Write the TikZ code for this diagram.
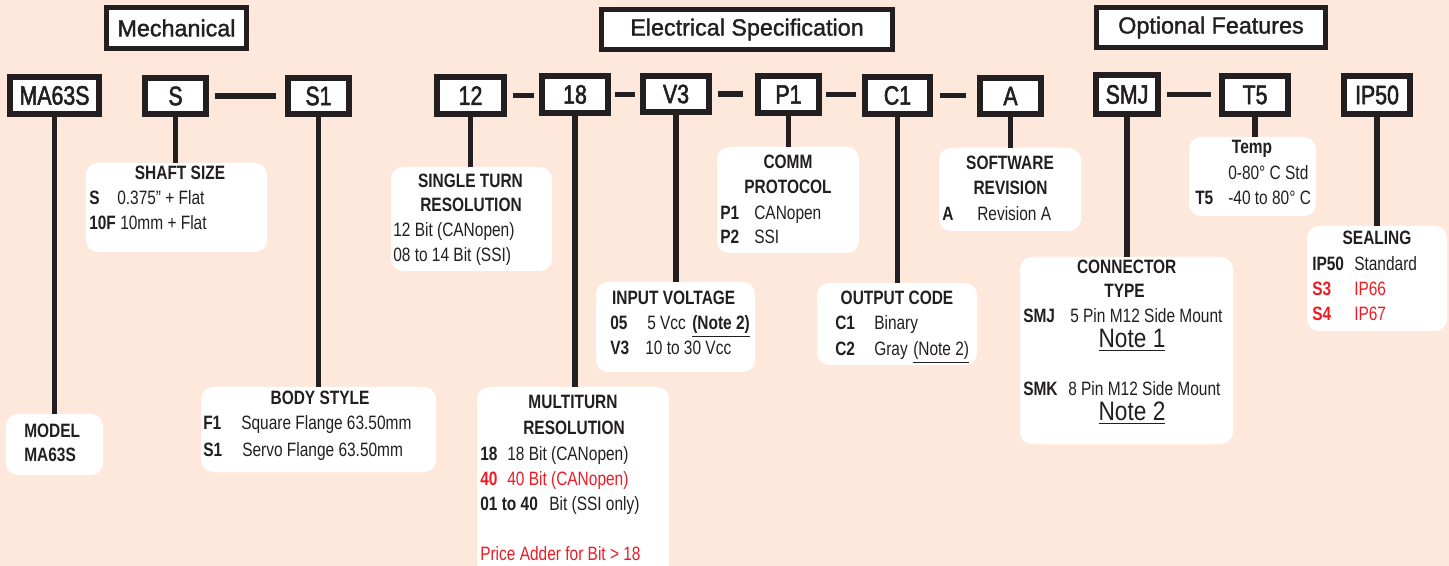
\documentclass[tikz,border=0pt]{standalone}
\usepackage{fontspec}
\setmainfont[FakeStretch=0.8]{Liberation Sans}
\newfontfamily\hdrfont[FakeBold=1.5]{Liberation Sans}
\newfontfamily\codefont[FakeStretch=0.8,FakeBold=2]{Liberation Sans}
\newfontfamily\notefont[FakeStretch=0.85]{Liberation Sans}
\definecolor{bg}{HTML}{FEE8DB}
\definecolor{ink}{HTML}{231F20}
\definecolor{redt}{HTML}{ED1C24}
\newlength\pxu \setlength\pxu{0.75pt}
\tikzset{
 codebox/.style={draw=ink, line width=6\pxu, fill=white, inner sep=0pt, text=ink, font=\codefont\fontsize{20}{24}\selectfont},
 hdrbox/.style={draw=ink, line width=5\pxu, fill=white, inner sep=0pt, text=ink, font=\hdrfont\fontsize{17.5}{21}\selectfont},
 infobox/.style={fill=white, rounded corners=12\pxu, inner sep=0pt},
 stem/.style={draw=ink, line width=5.5\pxu},
 dashline/.style={draw=ink, line width=5.5\pxu},
 tx/.style={inner sep=0pt, text=ink, font=\fontsize{14.5}{17}\selectfont, anchor=base west},
 tc/.style={inner sep=0pt, text=ink, font=\fontsize{14.5}{17}\selectfont\bfseries, anchor=base west},
 th/.style={inner sep=0pt, text=ink, font=\fontsize{14.5}{17}\selectfont\bfseries, anchor=base},
 notetx/.style={inner sep=0pt, text=ink, font=\notefont\fontsize{20}{24}\selectfont, anchor=base},
 rd/.style={text=redt},
}
\begin{document}
\begin{tikzpicture}[x=0.75pt,y=-0.75pt]
\path[use as bounding box, fill=bg] (0,0) rectangle (1449,566);
\clip (0,0) rectangle (1449,566);

% header boxes
\node[hdrbox, minimum width=140\pxu, minimum height=41\pxu] (hmech) at (176.5,28) {Mechanical};
\node[hdrbox, minimum width=291\pxu, minimum height=40\pxu] (helec) at (747,29.5) {Electrical Specification};
\node[hdrbox, minimum width=229\pxu, minimum height=40\pxu] (hopt) at (1211,27.5) {Optional Features};

% code boxes
\node[codebox, minimum width=89\pxu, minimum height=37\pxu] (cMA) at (54.5,95.5) {MA63S};
\node[codebox, minimum width=61\pxu, minimum height=36\pxu] (cS) at (175.5,96) {S};
\node[codebox, minimum width=61\pxu, minimum height=36\pxu] (cS1) at (318.5,96) {S1};
\node[codebox, minimum width=67\pxu, minimum height=37\pxu] (c12) at (470.5,95.5) {12};
\node[codebox, minimum width=66\pxu, minimum height=37\pxu] (c18) at (575,94.5) {18};
\node[codebox, minimum width=66\pxu, minimum height=36\pxu] (cV3) at (676,94) {V3};
\node[codebox, minimum width=61\pxu, minimum height=37\pxu] (cP1) at (788.5,94.5) {P1};
\node[codebox, minimum width=65\pxu, minimum height=37\pxu] (cC1) at (897.5,95.5) {C1};
\node[codebox, minimum width=61\pxu, minimum height=36\pxu] (cA) at (1010.5,96) {A};
\node[codebox, minimum width=62\pxu, minimum height=39\pxu] (cSMJ) at (1127,94.5) {SMJ};
\node[codebox, minimum width=66\pxu, minimum height=38\pxu] (cT5) at (1255,95) {T5};
\node[codebox, minimum width=66\pxu, minimum height=38\pxu] (cIP) at (1377,95) {IP50};

% dashes between code boxes
\draw[dashline, shorten <=6\pxu, shorten >=9\pxu] (cS.east) -- (cS.east -| cS1.west);
\draw[dashline, shorten <=6\pxu, shorten >=5\pxu] (c12.east) -- (c12.east -| c18.west);
\draw[dashline, shorten <=4\pxu, shorten >=5\pxu] (c18.east) -- (c18.east -| cV3.west);
\draw[dashline, shorten <=6\pxu, shorten >=12\pxu] (cV3.east) -- (cV3.east -| cP1.west);
\draw[dashline, shorten <=4\pxu, shorten >=6\pxu] (cP1.east) -- (cP1.east -| cC1.west);
\draw[dashline, shorten <=7\pxu, shorten >=11\pxu] (cC1.east) -- (cC1.east -| cA.west);
\draw[dashline, shorten <=6\pxu, shorten >=8\pxu] (cSMJ.east) -- (cSMJ.east -| cT5.west);

% info boxes
\node[infobox, minimum width=97\pxu, minimum height=61\pxu] (bmodel) at (54.5,444.5) {};
\node[infobox, minimum width=181\pxu, minimum height=89\pxu] (bshaft) at (176.5,207.5) {};
\node[infobox, minimum width=235\pxu, minimum height=85\pxu] (bbody) at (318.5,429.5) {};
\node[infobox, minimum width=161\pxu, minimum height=104\pxu] (bsingle) at (471.5,219) {};
\node[infobox, minimum width=192\pxu, minimum height=213\pxu] (bmulti) at (573,493.5) {};
\node[infobox, minimum width=159\pxu, minimum height=90\pxu] (binput) at (675.5,327) {};
\node[infobox, minimum width=142\pxu, minimum height=106\pxu] (bcomm) at (788,200) {};
\node[infobox, minimum width=160\pxu, minimum height=82\pxu] (boutput) at (897,324) {};
\node[infobox, minimum width=142\pxu, minimum height=83\pxu] (bsoft) at (1010,189.5) {};
\node[infobox, minimum width=213\pxu, minimum height=187\pxu] (bconn) at (1126.5,350.5) {};
\node[infobox, minimum width=127\pxu, minimum height=79\pxu] (btemp) at (1252.5,176.5) {};
\node[infobox, minimum width=140\pxu, minimum height=105\pxu] (bseal) at (1377,278.5) {};

% stems
\draw[stem] (cMA.south) -- (cMA.south |- bmodel.north);
\draw[stem] (cS.south) -- (cS.south |- bshaft.north);
\draw[stem] (cS1.south) -- (cS1.south |- bbody.north);
\draw[stem] (c12.south) -- (c12.south |- bsingle.north);
\draw[stem] (c18.south) -- (c18.south |- bmulti.north);
\draw[stem] (cV3.south) -- (cV3.south |- binput.north);
\draw[stem] (cP1.south) -- (cP1.south |- bcomm.north);
\draw[stem] (cC1.south) -- (cC1.south |- boutput.north);
\draw[stem] (cA.south) -- (cA.south |- bsoft.north);
\draw[stem] (cSMJ.south) -- (cSMJ.south |- bconn.north);
\draw[stem] (cT5.south) -- (cT5.south |- btemp.north);
\draw[stem] (cIP.south) -- (cIP.south |- bseal.north);

% model
\node[tc] (m1) at (24,437) {MODEL};
\node[tc] (m2) at (24,461) {MA63S};

% shaft size
\node[th] (s0) at (180,180) {SHAFT SIZE};
\node[tc] (s1a) at (89,205) {S};
\node[tx] (s1b) at (117,205) {0.375" + Flat};
\node[tc] (s2a) at (89,230) {10F};
\node[tx] (s2b) at (120,230) {10mm + Flat};

% body style
\node[th] (y0) at (320,405) {BODY STYLE};
\node[tc] (y1a) at (203,430) {F1};
\node[tx] (y1b) at (241,430) {Square Flange 63.50mm};
\node[tc] (y2a) at (203,456) {S1};
\node[tx] (y2b) at (242,456) {Servo Flange 63.50mm};

% single turn
\node[th] (g0) at (470.5,188) {SINGLE TURN};
\node[th] (g1) at (471,212) {RESOLUTION};
\node[tx] (g2) at (393,237) {12 Bit (CANopen)};
\node[tx] (g3) at (393,262) {08 to 14 Bit (SSI)};

% comm protocol
\node[th] (p0) at (788,169) {COMM};
\node[th] (p1) at (788,194) {PROTOCOL};
\node[tc] (p2a) at (720,220) {P1};
\node[tx] (p2b) at (754,220) {CANopen};
\node[tc] (p3a) at (720,244) {P2};
\node[tx] (p3b) at (754,244) {SSI};

% input voltage
\node[th] (v0) at (673.7,305) {INPUT VOLTAGE};
\node[tc] (v1a) at (610,330) {05};
\node[tx] (v1b) at (647,330) {5 Vcc};
\node[tc] (v1c) at (692,330) {\underline{(Note 2)}};
\node[tc] (v2a) at (610,355) {V3};
\node[tx] (v2b) at (645,355) {10 to 30 Vcc};

% multiturn
\node[th] (u0) at (573,409) {MULTITURN};
\node[th] (u1) at (574,434) {RESOLUTION};
\node[tc] (u2a) at (480,460) {18};
\node[tx] (u2b) at (507,460) {18 Bit (CANopen)};
\node[tc, rd] (u3a) at (480,485) {40};
\node[tx, rd] (u3b) at (507,485) {40 Bit (CANopen)};
\node[tc] (u4a) at (480,510) {01 to 40};
\node[tx] (u4b) at (549,510) {Bit (SSI only)};
\node[tx, rd] (u5) at (480,560) {Price Adder for Bit > 18};

% output code
\node[th] (o0) at (897,305) {OUTPUT CODE};
\node[tc] (o1a) at (835,330) {C1};
\node[tx] (o1b) at (874,330) {Binary};
\node[tc] (o2a) at (835,356) {C2};
\node[tx] (o2b) at (874,356) {Gray};
\node[tx] (o2c) at (913,356) {\underline{(Note 2)}};

% software revision
\node[th] (w0) at (1010,170) {SOFTWARE};
\node[th] (w1) at (1010.5,195) {REVISION};
\node[tc] (w2a) at (942,221) {A};
\node[tx] (w2b) at (977,221) {Revision A};

% connector type
\node[th] (k0) at (1126.7,274) {CONNECTOR};
\node[th] (k1) at (1124.5,298) {TYPE};
\node[tc] (k2a) at (1023,323) {SMJ};
\node[tx] (k2b) at (1070,323) {5 Pin M12 Side Mount};
\node[notetx] (k3) at (1132,348) {\underline{Note 1}};
\node[tc] (k4a) at (1023,396) {SMK};
\node[tx] (k4b) at (1068,396) {8 Pin M12 Side Mount};
\node[notetx] (k5) at (1132,421) {\underline{Note 2}};

% temp
\node[th] (e0) at (1252,154) {Temp};
\node[tx] (e1) at (1228,180) {0-80° C Std};
\node[tc] (e2a) at (1195,205) {T5};
\node[tx] (e2b) at (1228,205) {-40 to 80° C};

% sealing
\node[th] (a0) at (1377,245) {SEALING};
\node[tc] (a1a) at (1312,271) {IP50};
\node[tx] (a1b) at (1354,271) {Standard};
\node[tc, rd] (a2a) at (1312,296) {S3};
\node[tx, rd] (a2b) at (1354,296) {IP66};
\node[tc, rd] (a3a) at (1312,321) {S4};
\node[tx, rd] (a3b) at (1354,321) {IP67};
\end{tikzpicture}
\end{document}
